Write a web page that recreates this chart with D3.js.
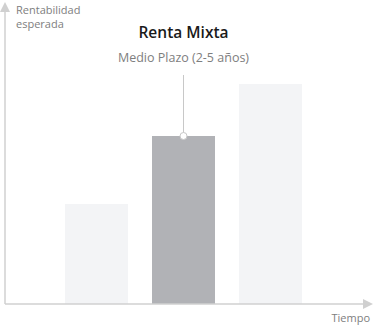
<!DOCTYPE html>
<html><head><meta charset="utf-8">
<script src="https://cdn.jsdelivr.net/npm/d3@7"></script>
<style>body{margin:0;background:#fff}svg{display:block}</style>
</head><body>
<svg id="c" width="373" height="326"></svg>
<script>
const categories = ["Corto Plazo", "Medio Plazo", "Largo Plazo"];
const values = [100, 168, 220];
const highlight = [false, true, false];
const title = "Renta Mixta";
const subtitle = "Medio Plazo (2-5 años)";
const yLabel = ["Rentabilidad", "esperada"];
const xLabel = "Tiempo";

const svg = d3.select("#c");
const font = "'Open Sans', 'Noto Sans', sans-serif";
const x0 = 5, y0 = 304;
const x = d3.scaleBand().domain(categories).range([65, 302]).paddingInner(24/87).paddingOuter(0);
const y = d3.scaleLinear().domain([0, 220]).range([y0, 84]);

svg.selectAll("rect.bar").data(categories).join("rect")
  .attr("class","bar")
  .attr("x", d => x(d)).attr("width", x.bandwidth())
  .attr("y", (d,i) => y(values[i])).attr("height", (d,i) => y0 - y(values[i]))
  .attr("fill", (d,i) => highlight[i] ? "#b1b2b6" : "#f3f4f6");

// axes
svg.append("line").attr("x1", x0).attr("x2", x0).attr("y1", 8).attr("y2", y0).attr("stroke","#d0d0d0").attr("stroke-width",1.5);
svg.append("line").attr("x1", x0).attr("x2", 366).attr("y1", y0).attr("y2", y0).attr("stroke","#d0d0d0").attr("stroke-width",1.5);
svg.append("path").attr("d", `M${x0},2 L${x0+5},12 L${x0-5},12 Z`).attr("fill","#d0d0d0");
svg.append("path").attr("d", `M373,${y0} L363,${y0-5} L363,${y0+5} Z`).attr("fill","#d0d0d0");

yLabel.forEach((t,i) => {
  svg.append("text").attr("x", 16).attr("y", 14 + i*14).attr("font-family", font).attr("font-size", 11).attr("fill","#7e7e7e").text(t);
});
svg.append("text").attr("x", 370).attr("y", 322).attr("text-anchor","end").attr("font-family", font).attr("font-size", 11).attr("fill","#7e7e7e").text(xLabel);

// annotation
const hi = highlight.indexOf(true);
const cx = x(categories[hi]) + x.bandwidth()/2;
const cy = y(values[hi]);
svg.append("line").attr("x1", cx).attr("x2", cx).attr("y1", 75).attr("y2", cy).attr("stroke","#c8c8c8").attr("stroke-width",1);
svg.append("circle").attr("cx", cx).attr("cy", cy).attr("r", 3.5).attr("fill","#fff").attr("stroke","#c8c8c8").attr("stroke-width",1);
svg.append("text").attr("x", cx).attr("y", 38).attr("text-anchor","middle").attr("font-family", font).attr("font-size", 15.5).attr("font-weight", 600).attr("fill","#1a1a1a").text(title);
svg.append("text").attr("x", cx).attr("y", 62).attr("text-anchor","middle").attr("font-family", font).attr("font-size", 12.5).attr("fill","#7e7e7e").text(subtitle);
</script>
</body></html>
